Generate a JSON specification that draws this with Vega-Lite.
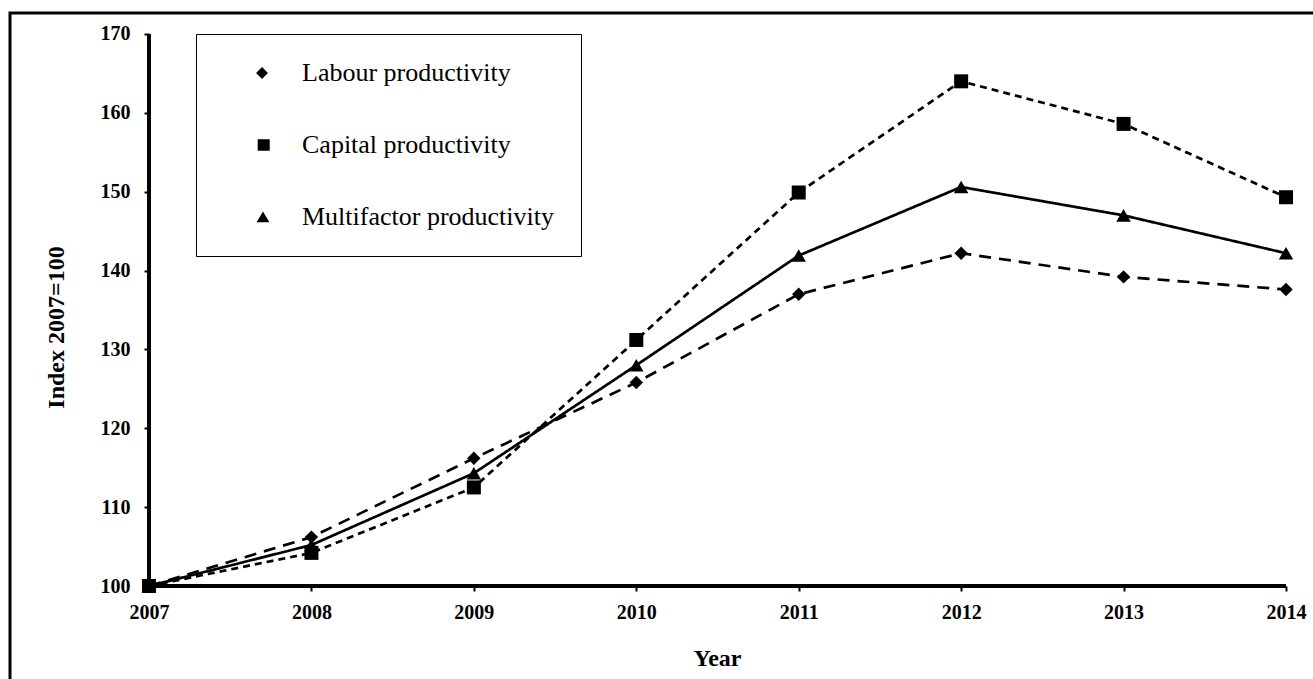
{
  "$schema": "https://vega.github.io/schema/vega-lite/v6.json",
  "width": 1303,
  "height": 666,
  "autosize": {"type": "none"},
  "padding": {"left": 10, "top": 13, "right": 0, "bottom": 0},
  "background": "white",
  "config": {
    "view": {"stroke": "black", "strokeWidth": 3, "strokeDash": [1303, 1969, 666]},
    "font": "Liberation Serif"
  },
  "data": {
    "values": [
      {"year": 2007, "series": "Labour productivity", "value": 100},
      {"year": 2008, "series": "Labour productivity", "value": 106.2},
      {"year": 2009, "series": "Labour productivity", "value": 116.2},
      {"year": 2010, "series": "Labour productivity", "value": 125.8},
      {"year": 2011, "series": "Labour productivity", "value": 137.0},
      {"year": 2012, "series": "Labour productivity", "value": 142.2},
      {"year": 2013, "series": "Labour productivity", "value": 139.2},
      {"year": 2014, "series": "Labour productivity", "value": 137.6},
      {"year": 2007, "series": "Capital productivity", "value": 100},
      {"year": 2008, "series": "Capital productivity", "value": 104.2},
      {"year": 2009, "series": "Capital productivity", "value": 112.5},
      {"year": 2010, "series": "Capital productivity", "value": 131.2},
      {"year": 2011, "series": "Capital productivity", "value": 149.9},
      {"year": 2012, "series": "Capital productivity", "value": 164.0},
      {"year": 2013, "series": "Capital productivity", "value": 158.6},
      {"year": 2014, "series": "Capital productivity", "value": 149.3},
      {"year": 2007, "series": "Multifactor productivity", "value": 100},
      {"year": 2008, "series": "Multifactor productivity", "value": 105.2},
      {"year": 2009, "series": "Multifactor productivity", "value": 114.3},
      {"year": 2010, "series": "Multifactor productivity", "value": 128.0},
      {"year": 2011, "series": "Multifactor productivity", "value": 141.9},
      {"year": 2012, "series": "Multifactor productivity", "value": 150.6},
      {"year": 2013, "series": "Multifactor productivity", "value": 147.0},
      {"year": 2014, "series": "Multifactor productivity", "value": 142.2}
    ]
  },
  "layer": [
    {
      "mark": {"type": "point", "filled": true, "fill": "black", "stroke": "black", "strokeWidth": 2.5, "opacity": 1, "size": 0.5},
      "encoding": {
        "x": {"field": "year", "type": "quantitative"},
        "y": {"field": "value", "type": "quantitative"},
        "shape": {
          "field": "series", "type": "nominal",
          "scale": {
            "domain": ["Labour productivity", "Capital productivity", "Multifactor productivity"],
            "range": [
              "M-5.14,0H-3.47M-1.81,0H-1.1M1.29,0H2.96M-0.14,-0.85L0.71,0L-0.14,0.85L-0.99,0Z",
              "M-5.14,0H-3.96M-3.24,0H-2.04M-1.33,0H-0.86M1.53,0H2.71M3.43,0H4.86M-0.76,-0.82H0.96V0.82H-0.76Z",
              "M-5.14,0H4.86M0,-0.8L0.92,0.75H-0.92Z"
            ]
          },
          "legend": {
            "title": null, "orient": "none", "legendX": 186, "legendY": 21, "direction": "vertical",
            "padding": 26, "strokeColor": "black", "fillColor": "white",
            "symbolSize": 196, "symbolOffset": 28, "labelOffset": 26,
            "labelFont": "Liberation Serif", "labelFontSize": 26, "labelColor": "black", "labelFontWeight": "normal",
            "labelLimit": 500, "rowPadding": 46,
            "symbolStrokeWidth": 2.5, "symbolFillColor": "black", "symbolStrokeColor": "black", "symbolOpacity": 1,
            "encode": {
              "legend": {"strokeWidth": {"value": 2}},
              "symbols": {"stroke": {"value": "black"}, "strokeWidth": {"value": 2.5}, "fill": {"value": "black"}, "opacity": {"value": 1}, "size": {"value": 196}}
            }
          }
        }
      }
    },
    {
      "mark": {"type": "line", "strokeWidth": 2.7, "color": "black"},
      "encoding": {
        "x": {
          "field": "year", "type": "quantitative",
          "scale": {"domain": [2006.1442, 2014.1662], "nice": false, "zero": false},
          "axis": {
            "title": "Year", "values": [2007, 2008, 2009, 2010, 2011, 2012, 2013, 2014], "format": "d",
            "offset": -93, "domain": false, "grid": false,
            "tickColor": "black", "tickWidth": 2, "tickSize": 5,
            "labelFont": "Liberation Serif", "labelFontWeight": "bold", "labelFontSize": 20, "labelColor": "black",
            "labelPadding": 11, "labelFlush": false, "labelOverlap": false,
            "titleFont": "Liberation Serif", "titleFontSize": 24, "titleFontWeight": "bold", "titleColor": "black",
            "titleX": 707, "titleY": 79, "titleBaseline": "alphabetic", "titleAlign": "center"
          }
        },
        "y": {
          "field": "value", "type": "quantitative",
          "scale": {"domain": [88.207, 172.663], "nice": false, "zero": false},
          "axis": {
            "title": "Index 2007=100", "values": [100, 110, 120, 130, 140, 150, 160, 170],
            "offset": -139, "domain": false, "grid": false,
            "tickColor": "black", "tickWidth": 2, "tickSize": 5,
            "labelFont": "Liberation Serif", "labelFontWeight": "bold", "labelFontSize": 20, "labelColor": "black",
            "labelPadding": 14, "labelOverlap": false, "labelFlush": false,
            "titleFont": "Liberation Serif", "titleFontSize": 24, "titleFontWeight": "bold", "titleColor": "black",
            "titleX": -86, "titleY": 314, "titleAngle": -90, "titleBaseline": "alphabetic", "titleAlign": "center"
          }
        },
        "strokeDash": {
          "field": "series", "type": "nominal",
          "scale": {"domain": ["Labour productivity", "Capital productivity", "Multifactor productivity"], "range": [[12, 8], [7, 5], [1, 0]]},
          "legend": null
        }
      }
    },
    {
      "transform": [{"filter": {"field": "series", "equal": "Labour productivity"}}],
      "mark": {"type": "point", "filled": true, "color": "black", "opacity": 1, "size": 180, "shape": "diamond"},
      "encoding": {
        "x": {"field": "year", "type": "quantitative"},
        "y": {"field": "value", "type": "quantitative"}
      }
    },
    {
      "transform": [{"filter": {"field": "series", "equal": "Capital productivity"}}],
      "mark": {"type": "point", "filled": true, "color": "black", "opacity": 1, "size": 196, "shape": "square"},
      "encoding": {
        "x": {"field": "year", "type": "quantitative"},
        "y": {"field": "value", "type": "quantitative"}
      }
    },
    {
      "transform": [{"filter": {"field": "series", "equal": "Multifactor productivity"}}],
      "mark": {"type": "point", "filled": true, "color": "black", "opacity": 1, "size": 210, "shape": "triangle-up"},
      "encoding": {
        "x": {"field": "year", "type": "quantitative"},
        "y": {"field": "value", "type": "quantitative"}
      }
    },
    {
      "mark": {"type": "rule", "color": "black", "strokeWidth": 3},
      "encoding": {
        "x": {"datum": 2007, "type": "quantitative"},
        "y": {"datum": 100, "type": "quantitative"},
        "y2": {"datum": 170}
      }
    },
    {
      "mark": {"type": "rule", "color": "black", "strokeWidth": 3},
      "encoding": {
        "x": {"datum": 2007, "type": "quantitative"},
        "x2": {"datum": 2014},
        "y": {"datum": 100, "type": "quantitative"}
      }
    }
  ]
}
